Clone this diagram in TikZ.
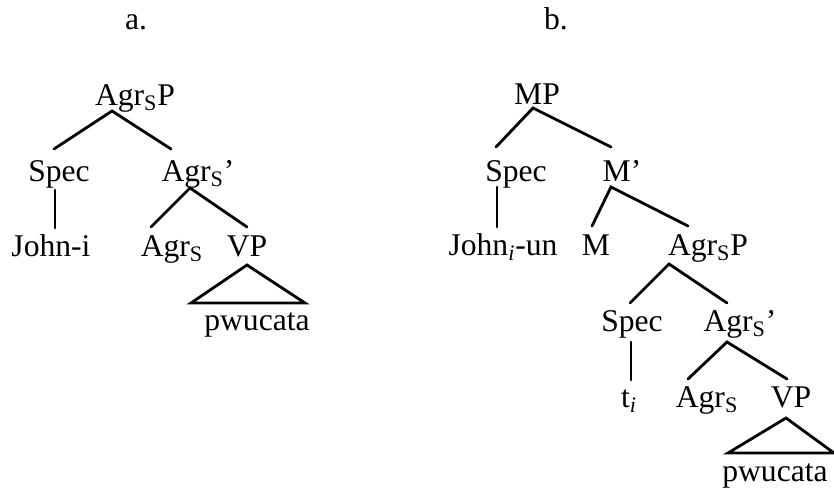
\documentclass[tikz,border=0pt]{standalone}
\usepackage{fontspec}
\setmainfont{Liberation Serif}
\usepackage{tikz}
\def\subS{\textsubscript{S}}
\def\subi{\textsubscript{\textit{i}}}

\begin{document}
\begin{tikzpicture}[x=0.02cm, y=-0.02cm,
		every node/.style={anchor=base, inner sep=0pt, font=\fontsize{18}{20}\selectfont},
		branch/.style={line width=1.6pt, line cap=round}]
			%%%%% START %%%%%
			\useasboundingbox (0, 0) rectangle (834, 492);
			
			% tree a
			\node (alabel) at (136, 30) {a.};
			\node (aTop) at (135, 106) {Agr\subS P};
			\node (aSpec) at (59, 182) {Spec};
			\node (aBar) at (198, 182) {Agr\subS'};
			\node (aJohn) at (51, 257) {John-i};
			\node (aHead) at (172, 257) {Agr\subS};
			\node (aVP) at (247, 257) {VP};
			\node (aWord) at (257, 331) {pwucata};
			
			\draw[branch] ([shift={(-5,-33)}]aSpec.base) -- ([shift={(-23,5)}]aTop.base) -- ([shift={(-27,-33)}]aBar.base);
			\draw[branch] ([shift={(-4,8)}]aSpec.base) -- ([shift={(4,-29)}]aJohn.base);
			\draw[branch] ([shift={(-21,-30)}]aHead.base) -- ([shift={(-8,6)}]aBar.base) -- ([shift={(0,-30)}]aVP.base);
			\draw[branch, line join=miter] ([shift={(0,8)}]aVP.base) -- ([shift={(-66,-28)}]aWord.base) -- ([shift={(48,-28)}]aWord.base) -- cycle;
			
			% tree b
			\node (blabel) at (556, 30) {b.};
			\node (bTop) at (537, 105) {MP};
			\node (bSpec) at (516, 182) {Spec};
			\node (bBar) at (622, 182) {M'};
			\node (bJohn) at (503, 256) {John\subi-un};
			\node (bHead) at (596, 256) {M};
			\node (bAgrP) at (708, 256) {Agr\subS P};
			\node (bSpecLow) at (632, 332) {Spec};
			\node (bAgrBar) at (740, 332) {Agr\subS'};
			\node (bTrace) at (629, 408) {t\subi};
			\node (bAgr) at (707, 408) {Agr\subS};
			\node (bVP) at (791, 408) {VP};
			\node (bWord) at (775, 481) {pwucata};
			
			\draw[branch] ([shift={(-20,-35)}]bSpec.base) -- ([shift={(-4,3)}]bTop.base) -- ([shift={(-11,-35)}]bBar.base);
			\draw[branch] ([shift={(-19,5)}]bSpec.base) -- ([shift={(-6,-29)}]bJohn.base);
			\draw[branch] ([shift={(-4,-30)}]bHead.base) -- ([shift={(-11,5)}]bBar.base) -- ([shift={(-20,-30)}]bAgrP.base);
			\draw[branch] ([shift={(-2,-29)}]bSpecLow.base) -- ([shift={(-39,8)}]bAgrP.base) -- ([shift={(-13,-29)}]bAgrBar.base);
			\draw[branch] ([shift={(-1,10)}]bSpecLow.base) -- ([shift={(2,-28)}]bTrace.base);
			\draw[branch] ([shift={(-19,-29)}]bAgr.base) -- ([shift={(-13,10)}]bAgrBar.base) -- ([shift={(-4,-29)}]bVP.base);
			\draw[branch, line join=miter] ([shift={(-5,10)}]bVP.base) -- ([shift={(-47,-28)}]bWord.base) -- ([shift={(59,-28)}]bWord.base) -- cycle;
			
			%%%%% END %%%%%
		\end{tikzpicture}
\end{document}
